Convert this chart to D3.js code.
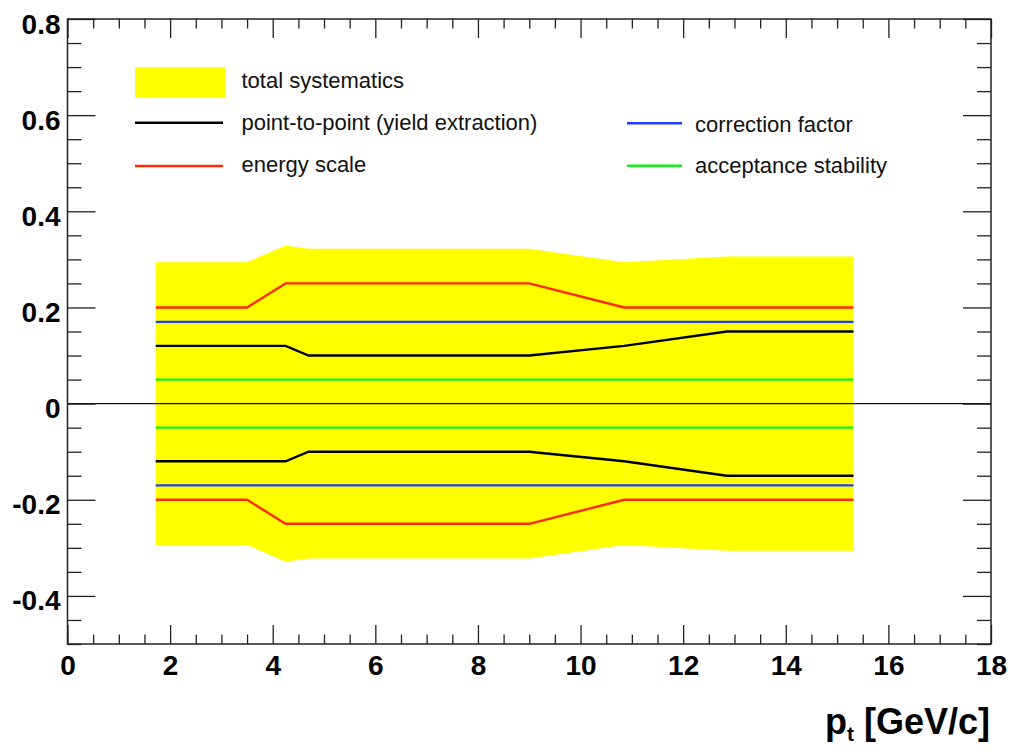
<!DOCTYPE html>
<html>
<head>
<meta charset="utf-8">
<script src="https://cdn.jsdelivr.net/npm/d3@7"></script>
<style>
  html, body { margin: 0; padding: 0; background: #fff; }
  svg { display: block; }
  text { font-family: "Liberation Sans", Arial, Helvetica, sans-serif; }
</style>
</head>
<body>
<script>
// Transverse momentum grid (GeV/c) where each systematic contribution is given
const pt = [1.72, 3.5, 4.25, 4.7, 9.0, 10.85, 12.85, 15.32];

// Relative systematic uncertainties (symmetric, +/-)
const totalSystematics    = [0.294, 0.294, 0.329, 0.322, 0.322, 0.294, 0.306, 0.306];
const pointToPoint        = [0.12, 0.12, 0.12, 0.10, 0.10, 0.12, 0.15, 0.15];
const energyScale         = [0.20, 0.20, 0.25, 0.25, 0.25, 0.20, 0.20, 0.20];
const correctionFactor    = [0.17, 0.17, 0.17, 0.17, 0.17, 0.17, 0.17, 0.17];
const acceptanceStability = [0.05, 0.05, 0.05, 0.05, 0.05, 0.05, 0.05, 0.05];

// Axis ticks
const xMajorTicks = [0, 2, 4, 6, 8, 10, 12, 14, 16, 18];
const yMajorTicks = [-0.4, -0.2, 0, 0.2, 0.4, 0.6, 0.8];
const yTickLabels = ["-0.4", "-0.2", "0", "0.2", "0.4", "0.6", "0.8"];

// Legend entries
const legendLabels = ["total systematics", "point-to-point (yield extraction)", "energy scale",
                      "correction factor", "acceptance stability"];

const W = 1009, H = 749;
const frameL = 67.5, frameR = 991, frameT = 19, frameB = 644;

const svg = d3.select("body").append("svg").attr("width", W).attr("height", H);

const x = d3.scaleLinear().domain([0, 18]).range([frameL, frameR]);
const y = d3.scaleLinear().domain([-0.5, 0.8]).range([frameB, frameT]);

const colors = {
  band: "#ffff00",
  black: "#000000",
  red: "#ff2a00",
  blue: "#1f3cff",
  green: "#16ee16"
};

// Total systematics band
const band = d3.area()
  .x((d, i) => x(pt[i]))
  .y0(d => y(-d))
  .y1(d => y(d));
svg.append("path").datum(totalSystematics)
  .attr("d", band)
  .attr("fill", colors.band);

// Zero line
svg.append("line")
  .attr("x1", x(0)).attr("x2", x(18))
  .attr("y1", y(0)).attr("y2", y(0))
  .attr("stroke", "#111").attr("stroke-width", 1.2);

// Individual contributions, drawn at +value and -value
const series = [
  { vals: acceptanceStability, color: colors.green },
  { vals: correctionFactor, color: colors.blue },
  { vals: pointToPoint, color: colors.black },
  { vals: energyScale, color: colors.red }
];
const upLine = d3.line().x((d, i) => x(pt[i])).y(d => y(d));
const downLine = d3.line().x((d, i) => x(pt[i])).y(d => y(-d));
series.forEach(s => {
  svg.append("path").datum(s.vals).attr("d", upLine)
    .attr("fill", "none").attr("stroke", s.color).attr("stroke-width", 2.4);
  svg.append("path").datum(s.vals).attr("d", downLine)
    .attr("fill", "none").attr("stroke", s.color).attr("stroke-width", 2.4);
});

// Axes: ticks inward on all four sides
const xMinor = d3.range(0, 18.01, 0.5).filter(v => Math.abs(v / 2 - Math.round(v / 2)) > 1e-6);
const yMinor = d3.range(-0.5, 0.801, 0.05).filter(v => Math.abs(v / 0.2 - Math.round(v / 0.2)) > 1e-6);
const xTickLen = 19, yTickLen = 28;
const axisColor = "#222";

function styleAxis(g) {
  g.select(".domain").remove();
  g.selectAll(".tick line").attr("stroke", axisColor).attr("stroke-width", 1.3);
}

// bottom
svg.append("g").attr("transform", `translate(0,${frameB})`)
  .call(d3.axisBottom(x).tickValues(xMajorTicks).tickSizeInner(-xTickLen).tickSizeOuter(0)
    .tickPadding(11).tickFormat(d3.format("d")))
  .call(styleAxis)
  .call(g => g.selectAll("text").attr("font-size", 28).attr("font-weight", "bold").attr("fill", "#000"));
svg.append("g").attr("transform", `translate(0,${frameB})`)
  .call(d3.axisBottom(x).tickValues(xMinor).tickSizeInner(-xTickLen / 2).tickSizeOuter(0).tickFormat(""))
  .call(styleAxis);
// top
svg.append("g").attr("transform", `translate(0,${frameT})`)
  .call(d3.axisTop(x).tickValues(xMajorTicks).tickSizeInner(-xTickLen).tickSizeOuter(0).tickFormat(""))
  .call(styleAxis);
svg.append("g").attr("transform", `translate(0,${frameT})`)
  .call(d3.axisTop(x).tickValues(xMinor).tickSizeInner(-xTickLen / 2).tickSizeOuter(0).tickFormat(""))
  .call(styleAxis);
// left
svg.append("g").attr("transform", `translate(${frameL},0)`)
  .call(d3.axisLeft(y).tickValues(yMajorTicks).tickSizeInner(-yTickLen).tickSizeOuter(0)
    .tickPadding(7).tickFormat((d, i) => yTickLabels[i]))
  .call(styleAxis)
  .call(g => g.selectAll("text").attr("font-size", 28).attr("font-weight", "bold")
    .attr("fill", "#000").attr("dy", "0.5em"));
svg.append("g").attr("transform", `translate(${frameL},0)`)
  .call(d3.axisLeft(y).tickValues(yMinor).tickSizeInner(-yTickLen / 2).tickSizeOuter(0).tickFormat(""))
  .call(styleAxis);
// right
svg.append("g").attr("transform", `translate(${frameR},0)`)
  .call(d3.axisRight(y).tickValues(yMajorTicks).tickSizeInner(-yTickLen).tickSizeOuter(0).tickFormat(""))
  .call(styleAxis);
svg.append("g").attr("transform", `translate(${frameR},0)`)
  .call(d3.axisRight(y).tickValues(yMinor).tickSizeInner(-yTickLen / 2).tickSizeOuter(0).tickFormat(""))
  .call(styleAxis);

// Frame
svg.append("rect")
  .attr("x", frameL).attr("y", frameT)
  .attr("width", frameR - frameL).attr("height", frameB - frameT)
  .attr("fill", "none").attr("stroke", axisColor).attr("stroke-width", 1.5);

// X axis title
const title = svg.append("text")
  .attr("x", 990).attr("y", 734)
  .attr("text-anchor", "end")
  .attr("font-size", 36).attr("font-weight", "bold").attr("fill", "#000");
title.append("tspan").text("p");
title.append("tspan").attr("font-size", 21).attr("dy", 7).text("t");
title.append("tspan").attr("dy", -7).text(" [GeV/c]");

// Legend
const legend = svg.append("g");
const legendFont = 22;
// column 1
legend.append("rect").attr("x", 135).attr("y", 67).attr("width", 90).attr("height", 31)
  .attr("fill", colors.band);
legend.append("text").attr("x", 241.5).attr("y", 87.5).text(legendLabels[0]);
legend.append("line").attr("x1", 135).attr("x2", 223).attr("y1", 122.7).attr("y2", 122.7)
  .attr("stroke", colors.black).attr("stroke-width", 2.5);
legend.append("text").attr("x", 241.5).attr("y", 130).text(legendLabels[1]);
legend.append("line").attr("x1", 135).attr("x2", 223).attr("y1", 166).attr("y2", 166)
  .attr("stroke", colors.red).attr("stroke-width", 2.5);
legend.append("text").attr("x", 241.5).attr("y", 172).text(legendLabels[2]);
// column 2
legend.append("line").attr("x1", 627).attr("x2", 682).attr("y1", 123.3).attr("y2", 123.3)
  .attr("stroke", colors.blue).attr("stroke-width", 2.5);
legend.append("text").attr("x", 695).attr("y", 131.5).text(legendLabels[3]);
legend.append("line").attr("x1", 627).attr("x2", 682).attr("y1", 165.7).attr("y2", 165.7)
  .attr("stroke", colors.green).attr("stroke-width", 2.5);
legend.append("text").attr("x", 695).attr("y", 172.5).text(legendLabels[4]);
legend.selectAll("text").attr("font-size", legendFont).attr("fill", "#111");
</script>
</body>
</html>
